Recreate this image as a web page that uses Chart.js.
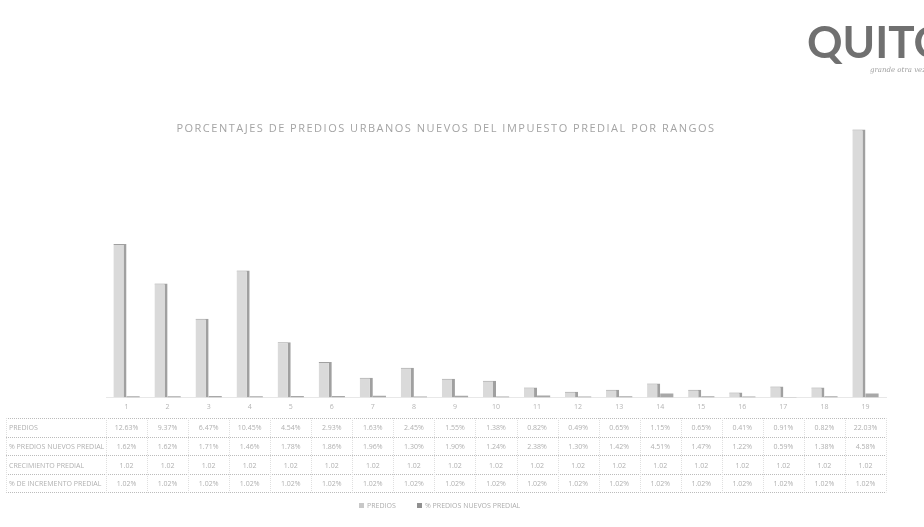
<!DOCTYPE html>
<html>
<head>
<meta charset="utf-8">
<script src="https://cdn.jsdelivr.net/npm/chart.js@4.4.1/dist/chart.umd.min.js"></script>
<style>
  html, body { margin: 0; padding: 0; background: #fff; }
  #wrap { width: 924px; height: 527px; }
</style>
</head>
<body>
<div id="wrap"><canvas id="chart" width="924" height="527"></canvas></div>
<script>
// Data (table text is blurry, values are estimates)
const rangos = ["1", "2", "3", "4", "5", "6", "7", "8", "9", "10",
  "11", "12", "13", "14", "15", "16", "17", "18", "19"];
const predios = [12.63, 9.37, 6.47, 10.45, 4.54, 2.93, 1.63, 2.45, 1.55, 1.38,
  0.82, 0.49, 0.65, 1.15, 0.65, 0.41, 0.91, 0.82, 22.03];
const prediosNuevos = [1.62, 1.62, 1.71, 1.46, 1.78, 1.86, 1.96, 1.30, 1.90, 1.24,
  2.38, 1.30, 1.42, 4.51, 1.47, 1.22, 0.59, 1.38, 4.58];
const crecimiento = [1.02, 1.02, 1.02, 1.02, 1.02, 1.02, 1.02, 1.02, 1.02, 1.02,
  1.02, 1.02, 1.02, 1.02, 1.02, 1.02, 1.02, 1.02, 1.02];
const incremento = [1.02, 1.02, 1.02, 1.02, 1.02, 1.02, 1.02, 1.02, 1.02, 1.02,
  1.02, 1.02, 1.02, 1.02, 1.02, 1.02, 1.02, 1.02, 1.02];

const titulo = "PORCENTAJES DE PREDIOS URBANOS NUEVOS DEL IMPUESTO PREDIAL POR RANGOS";
const filas = [
  { label: "PREDIOS", values: predios, fmt: v => v.toFixed(2) + "%" },
  { label: "% PREDIOS NUEVOS PREDIAL", values: prediosNuevos, fmt: v => v.toFixed(2) + "%" },
  { label: "CRECIMIENTO PREDIAL", values: crecimiento, fmt: v => v.toFixed(2) },
  { label: "% DE INCREMENTO PREDIAL", values: incremento, fmt: v => v.toFixed(2) + "%" }
];

const FONT = "'Open Sans', 'DejaVu Sans', sans-serif";

// Title, logo, data table and legend are drawn after the bars
const extras = {
  id: "extras",
  afterDraw(chart) {
    const c = chart.ctx;
    const xs = chart.scales.x;
    const area = chart.chartArea;
    c.save();

    // logo
    c.fillStyle = "#707070";
    c.font = "bold 44px Lato, sans-serif";
    c.textBaseline = "alphabetic";
    c.textAlign = "left";
    c.fillText("QUITO", 807, 58);
    c.fillStyle = "#a0a0a0";
    c.font = "italic 7px 'DejaVu Serif', serif";
    c.fillText("grande otra vez", 870, 72);

    // title
    c.fillStyle = "#a4a4a4";
    c.font = "11px " + FONT;
    c.letterSpacing = "1.5px";
    c.textAlign = "center";
    c.fillText(titulo, 446, 132);
    c.letterSpacing = "0px";

    // table
    const top = 418, rowH = 18.6;
    const left = 6, right = area.right;
    c.strokeStyle = "#bcbcbc";
    c.lineWidth = 1;
    c.setLineDash([1, 1]);
    for (let r = 0; r <= filas.length; r++) {
      const y = Math.round(top + r * rowH) + 0.5;
      c.beginPath(); c.moveTo(left, y); c.lineTo(right, y); c.stroke();
    }
    c.strokeStyle = "#e0e0e0";
    const half = (xs.getPixelForValue(1) - xs.getPixelForValue(0)) / 2;
    const cols = [left, area.left].concat(rangos.map((_, i) => xs.getPixelForValue(i) + half));
    cols.forEach(x => {
      const xx = Math.round(x) + 0.5;
      c.beginPath(); c.moveTo(xx, top); c.lineTo(xx, top + filas.length * rowH); c.stroke();
    });
    c.setLineDash([]);

    c.font = "7px " + FONT;
    c.textBaseline = "middle";
    filas.forEach((f, r) => {
      const y = top + r * rowH + rowH / 2 + 1;
      c.fillStyle = "#b0b0b0";
      c.textAlign = "left";
      c.fillText(f.label, 9, y);
      c.textAlign = "center";
      f.values.forEach((v, i) => c.fillText(f.fmt(v), xs.getPixelForValue(i), y));
    });

    // legend
    const ly = 506;
    c.font = "7px " + FONT;
    c.textAlign = "left";
    c.fillStyle = "#c8c8c8";
    c.fillRect(359, ly - 3, 5, 5);
    c.fillStyle = "#acacac";
    c.fillText("PREDIOS", 367, ly);
    c.fillStyle = "#909090";
    c.fillRect(417, ly - 3, 5, 5);
    c.fillStyle = "#acacac";
    c.fillText("% PREDIOS NUEVOS PREDIAL", 425, ly);
    c.restore();
  }
};

new Chart(document.getElementById("chart"), {
  type: "bar",
  data: {
    labels: rangos,
    datasets: [
      {
        label: "PREDIOS",
        data: predios,
        yAxisID: "y",
        backgroundColor: "#dadada",
        borderColor: "#a0a0a0",
        borderWidth: { right: 3, top: 1, left: 0, bottom: 0 },
        borderSkipped: false
      },
      {
        label: "% PREDIOS NUEVOS PREDIAL",
        data: prediosNuevos,
        yAxisID: "y2",
        backgroundColor: "#a8a8a8"
      }
    ]
  },
  options: {
    responsive: false,
    animation: false,
    devicePixelRatio: 1,
    datasets: { bar: { categoryPercentage: 0.64, barPercentage: 1.0 } },
    layout: { padding: { left: 106, right: 38, top: 125, bottom: 111 } },
    plugins: {
      legend: { display: false },
      title: { display: false },
      tooltip: { enabled: false }
    },
    scales: {
      x: {
        grid: { display: false, drawTicks: false },
        border: { display: true, color: "#e8e8e8" },
        ticks: { color: "#b4b4b4", font: { size: 7, family: FONT }, padding: 5, maxRotation: 0 }
      },
      y: { display: false, min: 0, max: 22.4 },
      y2: { display: false, min: 0, max: 300 }
    }
  },
  plugins: [extras]
});
</script>
</body>
</html>
